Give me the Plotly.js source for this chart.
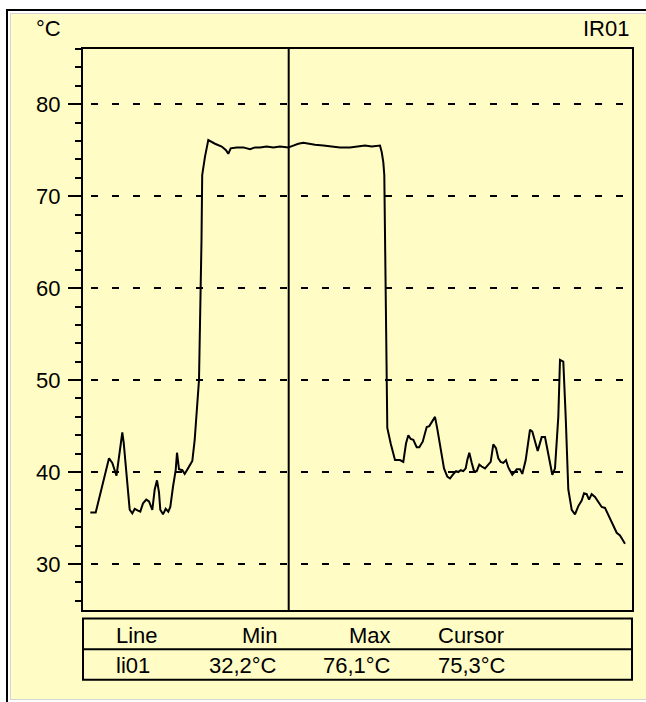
<!DOCTYPE html>
<html>
<head>
<meta charset="utf-8">
<script src="https://cdn.plot.ly/plotly-3.0.1.min.js"></script>
<style>
  html, body { margin: 0; padding: 0; background: #ffffff; width: 646px; height: 702px; overflow: hidden; }
  #frame { position: absolute; left: 6px; top: 9px; width: 640px; height: 693px;
           border-left: 2px solid #000; border-top: 2px solid #000; box-sizing: border-box; background: #fff; }
  #panel { position: absolute; left: 10px; top: 13px; width: 636px; height: 687px;
           border-left: 1px solid #d4d4d4; border-top: 1px solid #d4d4d4; border-bottom: 1px solid #d4d4d4;
           box-sizing: border-box; background: #fffdc5; }
  #chart { position: absolute; left: 12px; top: 15px; width: 634px; height: 683px; }
</style>
</head>
<body>
<div id="frame"></div>
<div id="panel"></div>
<div id="chart"></div>
<script>
// Temperature profile along line li01 (sample position along the line, °C)
const position = [
  7.3, 12.7, 26.0, 29.3, 33.5, 39.3, 40.7, 46.7, 49.3, 51.7, 55.0, 57.3, 60.0, 63.3, 66.0, 69.3,
  71.7, 74.0, 76.0, 77.3, 80.0, 82.7, 85.3, 87.3, 90.0, 92.7, 94.0, 96.0, 99.3, 101.7, 105.0, 109.3,
  111.7, 113.3, 116.0, 118.5, 119.2, 122.0, 125.3, 132.0, 138.7, 143.0, 145.3, 147.7, 153.7, 160.3,
  167.0, 172.0, 177.0, 183.7, 190.3, 197.0, 205.3, 210.3, 215.3, 220.3, 225.3, 232.0, 240.3, 248.7,
  257.0, 267.0, 273.7, 282.0, 288.7, 293.7, 297.0, 298.7, 300.3, 301.3, 303.7, 304.3, 307.7, 312.0,
  317.0, 320.3, 323.0, 325.3, 327.7, 330.3, 333.7, 336.3, 339.7, 343.7, 346.3, 348.7, 352.0, 354.3,
  357.7, 361.0, 364.3, 367.0, 369.7, 373.0, 375.3, 377.7, 380.3, 382.7, 384.3, 386.3, 388.7, 391.0,
  393.7, 396.3, 398.7, 402.0, 405.3, 407.7, 410.3, 413.0, 415.3, 417.7, 420.3, 423.0, 425.3, 427.7,
  429.3, 433.7, 437.0, 439.3, 442.7, 447.0, 449.3, 454.7, 458.7, 462.0, 465.3, 469.3, 472.0, 475.3,
  477.0, 480.3, 482.7, 485.3, 488.7, 492.0, 495.3, 498.7, 501.0, 503.7, 506.0, 508.7, 512.0, 515.3,
  518.7, 522.0, 526.0, 529.3, 533.7, 537.0, 542.0
];
const temperature = [
  35.6, 35.6, 41.5, 41.0, 39.6, 44.3, 43.2, 35.9, 35.5, 36.0, 35.8, 35.7, 36.6, 37.0, 36.8, 35.9,
  38.1, 39.1, 37.8, 35.9, 35.4, 36.0, 35.7, 36.2, 38.4, 40.2, 42.1, 40.3, 40.2, 39.8, 40.4, 41.2,
  43.5, 46.0, 50.0, 65.2, 72.3, 74.3, 76.1, 75.7, 75.4, 75.0, 74.6, 75.2, 75.3, 75.3,
  75.1, 75.3, 75.3, 75.4, 75.3, 75.4, 75.3, 75.5, 75.7, 75.8, 75.7, 75.6, 75.5, 75.4,
  75.3, 75.3, 75.4, 75.5, 75.4, 75.5, 75.5, 74.8, 73.7, 72.3, 47.8, 44.8, 43.1, 41.3,
  41.3, 41.1, 43.1, 44.0, 43.6, 43.5, 42.7, 42.7, 43.3, 44.9, 45.0, 45.4, 46.0, 44.7,
  42.4, 40.4, 39.5, 39.3, 39.7, 40.1, 40.0, 40.2, 40.1, 40.4, 41.3, 42.1, 41.0, 40.1,
  40.1, 40.8, 40.6, 40.4, 40.8, 41.1, 43.0, 42.6, 41.5, 41.1, 41.0, 41.3, 40.5, 40.1,
  39.7, 40.3, 40.3, 39.8, 41.3, 44.6, 44.4, 42.3, 43.8, 43.8, 41.9, 39.7, 40.4, 46.0,
  52.2, 52.0, 46.0, 38.1, 35.9, 35.4, 36.3, 36.9, 37.7, 37.6, 37.0, 37.6, 37.3, 36.8,
  36.2, 36.1, 35.2, 34.5, 33.4, 33.1, 32.2
];
const cursorPosition = 205.7;
const lineName = 'li01';
const sensorName = 'IR01';
const unit = '°C';
const tableHeaders = ['Line', 'Min', 'Max', 'Cursor'];

// Temperature at the cursor, interpolated between neighbouring samples
function valueAt(x) {
  for (let i = 1; i < position.length; i++) {
    if (position[i] >= x) {
      const f = (x - position[i - 1]) / (position[i] - position[i - 1]);
      return temperature[i - 1] + f * (temperature[i] - temperature[i - 1]);
    }
  }
  return temperature[temperature.length - 1];
}
const fmt = v => v.toFixed(1).replace('.', ',') + unit;
const tableRow = [lineName, fmt(Math.min(...temperature)), fmt(Math.max(...temperature)), fmt(valueAt(cursorPosition))];

const FONT = 'Liberation Sans, Arial, sans-serif';
const FS = 22;

// Table geometry (paper units, below the plot area)
const tblTop = -0.0150, tblMid = -0.0700, tblBot = -0.1245;
const hdrY = (tblTop + tblMid) / 2 - 0.003, rowY = (tblMid + tblBot) / 2 - 0.002;
const colX = [0.0565, 0.3570, 0.5645, 0.6436];
const colAnchor = ['left', 'right', 'right', 'left'];

const annotations = [
  { text: unit, x: -0.036, xanchor: 'right', y: 1.036, yanchor: 'middle' },
  { text: sensorName, x: 0.9975, xanchor: 'right', y: 1.036, yanchor: 'middle' }
];
tableHeaders.forEach((h, i) => annotations.push({ text: h, x: colX[i], xanchor: colAnchor[i], y: hdrY, yanchor: 'middle' }));
tableRow.forEach((v, i) => annotations.push({ text: v, x: colX[i], xanchor: colAnchor[i], y: rowY, yanchor: 'middle' }));
annotations.forEach(a => { a.xref = 'paper'; a.yref = 'paper'; a.showarrow = false; a.font = { family: FONT, size: FS, color: '#000' }; });

const trace = {
  x: position,
  y: temperature,
  type: 'scatter',
  mode: 'lines',
  line: { color: '#000', width: 2 },
  hoverinfo: 'skip'
};

const layout = {
  width: 634,
  height: 683,
  margin: { l: 71, r: 14, t: 34, b: 88, pad: 0 },
  paper_bgcolor: '#fffdc5',
  plot_bgcolor: '#fffdc5',
  showlegend: false,
  font: { family: FONT, size: FS, color: '#000' },
  xaxis: {
    range: [0, 549],
    showline: true, linecolor: '#000', linewidth: 2, mirror: true,
    showgrid: false, zeroline: false, showticklabels: false, ticks: '',
    fixedrange: true
  },
  yaxis: {
    range: [25, 86],
    tick0: 0, dtick: 10,
    showline: true, linecolor: '#000', linewidth: 2, mirror: true,
    ticks: 'outside', ticklen: 13, tickwidth: 2, tickcolor: '#000',
    minor: { tick0: 0, dtick: 2, ticks: 'outside', ticklen: 6, tickwidth: 2, tickcolor: '#000', showgrid: false },
    showgrid: true, gridcolor: '#000', gridwidth: 2, griddash: '0px,8px,7px,6px',
    zeroline: false,
    tickfont: { family: FONT, size: FS, color: '#000' },
    ticklabelstandoff: 3,
    fixedrange: true
  },
  shapes: [
    { type: 'line', xref: 'x', yref: 'paper', x0: cursorPosition, x1: cursorPosition, y0: 0, y1: 1,
      line: { color: '#000', width: 2 } },
    { type: 'rect', xref: 'paper', yref: 'paper', x0: 0, x1: 1, y0: tblBot, y1: tblTop,
      line: { color: '#000', width: 2 }, fillcolor: 'rgba(0,0,0,0)' },
    { type: 'line', xref: 'paper', yref: 'paper', x0: 0, x1: 1, y0: tblMid, y1: tblMid,
      line: { color: '#000', width: 2 } }
  ],
  annotations: annotations
};

Plotly.newPlot('chart', [trace], layout, { displayModeBar: false, staticPlot: true });
</script>
</body>
</html>
